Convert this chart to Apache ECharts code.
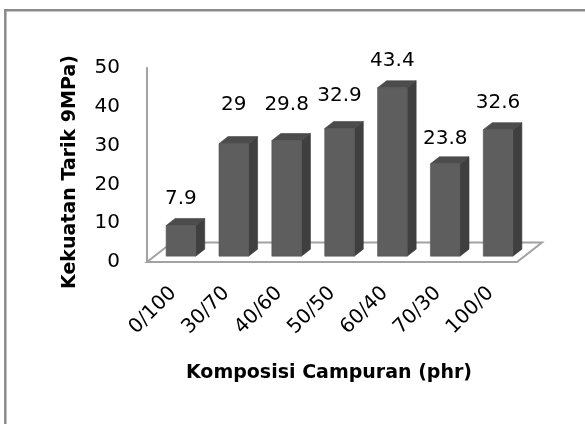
<!DOCTYPE html>
<html>
<head>
<meta charset="utf-8">
<script src="https://cdn.jsdelivr.net/npm/echarts@6/dist/echarts.min.js"></script>
<style>
  html, body { margin: 0; padding: 0; background: #ffffff; }
  #chart { width: 585px; height: 424px; }
</style>
</head>
<body>
<div id="chart"></div>
<script>
// Tensile strength per blend composition
const categories = ['0/100', '30/70', '40/60', '50/50', '60/40', '70/30', '100/0'];
const tensileStrength = [7.9, 29, 29.8, 32.9, 43.4, 23.8, 32.6];
const yMin = 0, yMax = 50, yStep = 10;
const xTitle = 'Komposisi Campuran (phr)';
const yTitle = 'Kekuatan Tarik 9MPa)';

// Extra lift (px) for individual value labels, as placed in the original layout
const labelLift = [0, 12, 9, 6, 0, -2, 0];

// Pseudo-3D look: floor depth vector and bar placement inside that depth
const FLOOR_DX = 25, FLOOR_DY = -19.5;
const BAR_FRONT = 0.3;     // fraction of floor depth where the bar front sits
const BAR_DEPTH = 0.36;    // bar depth as a fraction of floor depth
const BAR_WIDTH = 0.56;    // front-face width as a fraction of the category band

const FONT = "'DejaVu Sans', sans-serif";
const LINE_GREY = '#a2a2a2';

const chart = echarts.init(document.getElementById('chart'), null, { renderer: 'canvas' });

function renderFloor(params, api) {
  const cs = params.coordSys;
  const x0 = cs.x, x1 = cs.x + cs.width, y0 = cs.y + cs.height;
  return {
    type: 'polygon',
    shape: { points: [[x0, y0], [x1, y0], [x1 + FLOOR_DX, y0 + FLOOR_DY], [x0 + FLOOR_DX, y0 + FLOOR_DY]] },
    style: { fill: '#ffffff', stroke: LINE_GREY, lineWidth: 2 },
    z2: 0
  };
}

function renderBar(params, api) {
  const idx = api.value(0);
  const val = api.value(1);
  const base = api.coord([idx, 0]);
  const top = api.coord([idx, val]);
  const band = api.size([1, 0])[0];
  const w = band * BAR_WIDTH;
  const fx = FLOOR_DX * BAR_FRONT, fy = FLOOR_DY * BAR_FRONT;
  const dx = FLOOR_DX * BAR_DEPTH, dy = FLOOR_DY * BAR_DEPTH;
  const xl = base[0] + fx - w / 2, xr = xl + w;
  const yb = base[1] + fy, yt = top[1] + fy;
  return {
    type: 'group',
    children: [
      {
        type: 'polygon',
        shape: { points: [[xr, yt], [xr + dx, yt + dy], [xr + dx, yb + dy], [xr, yb]] },
        style: { fill: '#3f3f3f', stroke: '#3a3a3a', lineWidth: 0.6 }
      },
      {
        type: 'polygon',
        shape: { points: [[xl, yt], [xr, yt], [xr + dx, yt + dy], [xl + dx, yt + dy]] },
        style: { fill: '#4c4c4c', stroke: '#444444', lineWidth: 0.6 }
      },
      {
        type: 'rect',
        shape: { x: xl, y: yt, width: w, height: yb - yt },
        style: { fill: '#5e5e5e', stroke: '#555555', lineWidth: 0.6 }
      },
      {
        type: 'text',
        style: {
          text: String(tensileStrength[params.dataIndex]),
          x: xl + w / 2,
          y: yt + dy - 20 - labelLift[params.dataIndex],
          align: 'center',
          verticalAlign: 'middle',
          fontFamily: FONT,
          fontSize: 20,
          fill: '#000000'
        }
      }
    ]
  };
}

chart.setOption({
  backgroundColor: '#ffffff',
  animation: false,
  grid: { left: 147, right: 68, top: 68, bottom: 162, containLabel: false },
  xAxis: {
    type: 'category',
    data: categories,
    axisLine: { show: false },
    axisTick: { show: false },
    axisLabel: {
      rotate: 45,
      margin: 28,
      interval: 0,
      fontFamily: FONT,
      fontSize: 20,
      color: '#000000'
    }
  },
  yAxis: {
    type: 'value',
    min: yMin,
    max: yMax,
    interval: yStep,
    axisLine: { show: true, lineStyle: { color: LINE_GREY, width: 2 } },
    axisTick: { show: false },
    splitLine: { show: false },
    axisLabel: { margin: 27, fontFamily: FONT, fontSize: 20, color: '#000000' }
  },
  series: [
    {
      type: 'custom',
      name: 'floor',
      silent: true,
      clip: false,
      z: 1,
      renderItem: renderFloor,
      data: [[0, 0]]
    },
    {
      type: 'custom',
      name: 'Kekuatan Tarik',
      clip: false,
      z: 2,
      renderItem: renderBar,
      encode: { x: 0, y: 1 },
      data: tensileStrength.map((v, i) => [i, v])
    }
  ],
  graphic: [
    {
      type: 'polyline',
      silent: true,
      shape: { points: [[5.3, 424], [5.3, 10.3], [585, 10.3]] },
      style: { stroke: '#8a8a8a', lineWidth: 2.5, fill: null }
    },
    {
      type: 'text',
      silent: true,
      x: 329, y: 373,
      style: {
        text: xTitle, align: 'center', verticalAlign: 'middle',
        fontFamily: FONT, fontWeight: 'bold', fontSize: 19, fill: '#000000'
      }
    },
    {
      type: 'text',
      silent: true,
      x: 70, y: 172,
      rotation: Math.PI / 2,
      style: {
        text: yTitle, align: 'center', verticalAlign: 'middle',
        fontFamily: FONT, fontWeight: 'bold', fontSize: 19, fill: '#000000'
      }
    }
  ]
});
</script>
</body>
</html>
